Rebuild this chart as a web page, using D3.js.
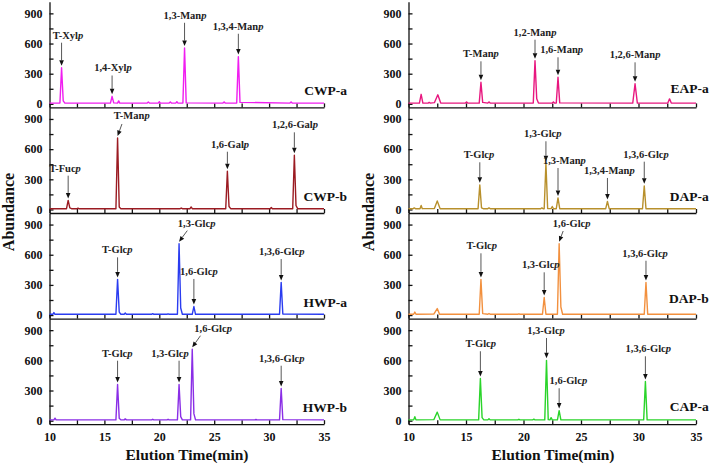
<!DOCTYPE html>
<html><head><meta charset="utf-8">
<script src="https://cdn.jsdelivr.net/npm/d3@7"></script>
<style>body{margin:0;background:#fff}svg{display:block}text{font-family:"Liberation Serif","Times New Roman",serif;font-weight:bold}</style>
</head><body>
<svg id="c" width="710" height="469"></svg>
<script>
// ---------- data ----------
const xDomain = [10, 35];
const yDomain = [-35, 1015];
const xTicks = [10, 12.5, 15, 17.5, 20, 22.5, 25, 27.5, 30, 32.5, 35];
const xTickLabels = [10, 15, 20, 25, 30, 35];
const yTicks = [0, 150, 300, 450, 600, 750, 900];
const yTickLabels = [0, 300, 600, 900];
const sampleNames = ["CWP-a", "CWP-b", "HWP-a", "HWP-b", "EAP-a", "DAP-a", "DAP-b", "CAP-a"];
const sampleColors = ["#f01ef0", "#9b1b22", "#2a3cf0", "#8a2ee6", "#e8177f", "#b8902c", "#f2903e", "#2ad42a"];
// name label anchor [time, abundance]
const nameAnchor = [[37.1, 90], [37.1, 87], [37.1, 77], [37.1, 90], [36.1, 110], [36.1, 87], [36.1, 117], [36.1, 100]];

// chromatogram traces: [elution time (min), abundance]
const CWP_a = [[10,8],[10.95,8],[11.1,360],[11.25,30],[11.4,8],[15.55,8],[15.7,75],[15.85,10],[16.2,8],[16.3,30],[16.4,8],[18.9,8],[19.0,18],[19.1,8],[19.9,8],[20.0,22],[20.1,8],[20.9,8],[21.0,20],[21.1,8],[21.5,8],[21.6,22],[21.7,8],[22.15,8],[22.3,555],[22.45,10],[25.8,8],[25.9,20],[26.0,8],[27.05,8],[27.2,470],[27.35,15],[31.9,8],[32.0,20],[32.1,8],[35,8]];
const CWP_b = [[10,8],[11.55,8],[11.7,90],[11.85,15],[12.0,8],[12.5,8],[12.6,12],[12.7,8],[16.05,8],[16.2,710],[16.35,25],[16.5,8],[21.9,8],[22.0,15],[22.1,8],[22.8,8],[22.9,25],[23.0,8],[26.05,8],[26.2,380],[26.35,30],[26.5,8],[30.1,8],[30.2,20],[30.3,8],[32.15,8],[32.3,540],[32.45,40],[32.6,8],[35,8]];
const HWP_a = [[10,8],[10.3,8],[10.4,25],[10.5,8],[16.05,8],[16.2,355],[16.35,30],[16.5,8],[16.8,8],[16.9,20],[17.0,8],[19.3,8],[19.4,14],[19.5,8],[20.7,8],[20.8,12],[20.9,8],[21.65,8],[21.8,710],[21.95,70],[22.1,8],[23.0,8],[23.15,85],[23.3,8],[30.95,8],[31.1,325],[31.25,10],[35,8]];
const HWP_b = [[10,8],[10.4,8],[10.5,25],[10.6,8],[16.05,8],[16.2,360],[16.35,25],[16.5,8],[16.8,8],[16.9,18],[17.0,8],[19.3,8],[19.4,14],[19.5,8],[20.7,8],[20.8,14],[20.9,8],[21.65,8],[21.8,360],[21.95,40],[22.1,8],[22.85,8],[23.0,710],[23.15,70],[23.3,8],[28.7,8],[28.8,12],[28.9,8],[30.95,8],[31.1,320],[31.25,10],[35,8]];
const EAP_a = [[10,8],[10.95,8],[11.1,95],[11.25,8],[11.7,8],[11.8,15],[11.9,8],[12.25,12],[12.55,90],[12.8,8],[14.95,8],[15.05,20],[15.15,8],[16.15,8],[16.3,215],[16.45,15],[16.9,8],[17.0,20],[17.1,8],[20.85,8],[21.0,430],[21.15,50],[21.3,8],[22.5,8],[22.6,20],[22.7,8],[22.85,8],[23.0,265],[23.15,10],[29.5,8],[29.7,200],[29.9,8],[32.55,8],[32.7,50],[32.85,8],[35,8]];
const DAP_a = [[10,8],[10.4,8],[10.5,15],[10.6,8],[11.0,8],[11.1,40],[11.2,8],[12.25,10],[12.5,85],[12.75,8],[16.05,8],[16.2,245],[16.35,15],[16.5,8],[16.9,8],[17.0,15],[17.1,8],[21.5,8],[21.6,15],[21.7,8],[21.8,8],[21.95,460],[22.1,10],[22.4,8],[22.5,30],[22.6,8],[22.85,8],[23.0,115],[23.15,8],[27.15,8],[27.3,80],[27.45,8],[30.35,8],[30.5,235],[30.65,8],[35,8]];
const DAP_b = [[10,8],[10.45,8],[10.55,30],[10.65,8],[12.2,10],[12.5,65],[12.7,8],[16.15,8],[16.3,355],[16.45,15],[16.9,8],[17.0,15],[17.1,8],[19.5,8],[19.6,12],[19.7,8],[21.65,8],[21.8,175],[21.95,8],[22.95,8],[23.1,710],[23.25,80],[23.4,8],[30.5,8],[30.65,325],[30.8,8],[35,8]];
const CAP_a = [[10,8],[10.45,8],[10.55,40],[10.65,8],[12.2,10],[12.5,85],[12.75,8],[16.1,8],[16.25,420],[16.4,30],[16.55,8],[16.9,8],[17.0,20],[17.1,8],[19.5,8],[19.6,14],[19.7,8],[20.8,8],[20.9,15],[21.0,8],[21.85,8],[22.0,600],[22.15,10],[22.3,8],[22.4,30],[22.5,8],[22.95,8],[23.1,100],[23.25,8],[30.45,8],[30.6,390],[30.75,8],[35,8]];
const traces = [CWP_a, CWP_b, HWP_a, HWP_b, EAP_a, DAP_a, DAP_b, CAP_a];

// peak annotations: [label, peak time, peak abundance, label time, label abundance, (arrow start time, arrow start abundance)]
const CWP_a_peaks = [["T-Xylp",11.1,360,11.68,648],["1,4-Xylp",15.7,75,15.78,322],["1,3-Manp",22.3,555,22.34,846],["1,3,4-Manp",27.2,470,27.17,737]];
const CWP_b_peaks = [["T-Fucp",11.7,90,11.41,376],["T-Manp",16.2,710,17.49,897,16.6,850],["1,6-Galp",26.2,380,26.44,614],["1,2,6-Galp",32.3,540,32.36,807]];
const HWP_a_peaks = [["T-Glcp",16.2,355,16.17,614],["1,3-Glcp",21.8,710,23.4,873,22.55,840],["1,6-Glcp",23.15,85,23.6,399],["1,3,6-Glcp",31.1,325,31.15,597]];
const HWP_b_peaks = [["T-Glcp",16.2,360,16.17,636],["1,3-Glcp",21.8,360,20.97,636],["1,6-Glcp",23.0,710,24.9,885,23.75,845],["1,3,6-Glcp",31.1,320,31.15,586]];
const EAP_a_peaks = [["T-Manp",16.3,215,16.3,463],["1,2-Manp",21.0,430,21.0,678],["1,6-Manp",23.0,265,23.32,503],["1,2,6-Manp",29.7,200,29.7,453]];
const DAP_a_peaks = [["T-Glcp",16.2,245,16.13,509],["1,3-Glcp",21.95,460,21.67,718],["1,3-Manp",23.0,115,23.55,452],["1,3,4-Manp",27.3,80,27.46,353],["1,3,6-Glcp",30.5,235,30.65,515]];
const DAP_b_peaks = [["T-Glcp",16.3,355,16.37,654],["1,3-Glcp",21.8,175,21.5,465],["1,6-Glcp",23.1,710,24.19,873,23.45,836],["1,3,6-Glcp",30.65,325,30.57,580]];
const CAP_a_peaks = [["T-Glcp",16.25,420,16.28,730],["1,3-Glcp",22.0,600,21.96,862],["1,6-Glcp",23.1,100,23.9,362],["1,3,6-Glcp",30.6,390,30.85,680]];
const peakSets = [CWP_a_peaks, CWP_b_peaks, HWP_a_peaks, HWP_b_peaks, EAP_a_peaks, DAP_a_peaks, DAP_b_peaks, CAP_a_peaks];

// ---------- layout ----------
const svg = d3.select("#c");
const colX = [[49.5, 324], [408.5, 696]];
const rowTop = 1.8, rowH = 105.6;

for (let i = 0; i < 8; i++) {
  const col = Math.floor(i / 4), row = i % 4;
  const x = d3.scaleLinear().domain(xDomain).range(colX[col]);
  const top = rowTop + row * rowH, bot = top + rowH;
  const y = d3.scaleLinear().domain(yDomain).range([bot, top]);
  const g = svg.append("g");
  const isBottom = row === 3;

  // axes
  const xa = g.append("g").attr("transform", `translate(0,${bot})`)
    .call(d3.axisBottom(x).tickValues(xTicks).tickSize(-4).tickSizeOuter(0).tickPadding(8)
      .tickFormat(d => isBottom && xTickLabels.includes(d) ? d : ""));
  const ya = g.append("g").attr("transform", `translate(${colX[col][0]},0)`)
    .call(d3.axisLeft(y).tickValues(yTicks).tickSize(-4).tickSizeOuter(0).tickPadding(7)
      .tickFormat(d => yTickLabels.includes(d) ? d : ""));
  [xa, ya].forEach(a => {
    a.selectAll("path,line").attr("stroke", "#111").attr("stroke-width", 1.3);
    a.selectAll("text").attr("font-size", 12).attr("fill", "#111")
      .style("font-family", '"Liberation Serif",serif').style("font-weight", "bold");
  });

  // trace
  const line = d3.line().x(d => x(d[0])).y(d => y(d[1]));
  g.append("path").datum(traces[i]).attr("d", line)
    .attr("fill", "none").attr("stroke", sampleColors[i]).attr("stroke-width", 1.4)
    .attr("stroke-linejoin", "round");

  // sample name
  g.append("text").attr("x", x(nameAnchor[i][0])).attr("y", y(nameAnchor[i][1]))
    .attr("text-anchor", "end").attr("font-size", 13.5).attr("fill", "#111").text(sampleNames[i]);

  // annotations
  peakSets[i].forEach(p => {
    const [lab, pt, pv, lt, lv, at, av] = p;
    const t = g.append("text").attr("x", x(lt)).attr("y", y(lv)).attr("text-anchor", "middle")
      .attr("font-size", 10.5).attr("fill", "#222");
    t.append("tspan").text(lab.slice(0, -1));
    t.append("tspan").attr("font-style", "italic").text("p");
    const x0 = at !== undefined ? x(at) : x(pt);
    const y0 = av !== undefined ? y(av) : y(lv) + 4;
    const x1 = x(pt), y1 = y(pv) - 2;
    const ang = Math.atan2(y1 - y0, x1 - x0);
    const L = 5.5, W = 2.3;
    const bx = x1 - L * Math.cos(ang), by = y1 - L * Math.sin(ang);
    g.append("line").attr("x1", x0).attr("y1", y0).attr("x2", bx).attr("y2", by)
      .attr("stroke", "#444").attr("stroke-width", 0.9);
    const px = -Math.sin(ang) * W, py = Math.cos(ang) * W;
    g.append("path").attr("d", `M${x1},${y1}L${bx + px},${by + py}L${bx - px},${by - py}Z`).attr("fill", "#111");
  });
}

// axis titles
svg.append("text").attr("transform", "translate(14,212) rotate(-90)").attr("text-anchor", "middle")
  .attr("font-size", 16).attr("fill", "#111").text("Abundance");
svg.append("text").attr("transform", "translate(374,212) rotate(-90)").attr("text-anchor", "middle")
  .attr("font-size", 16).attr("fill", "#111").text("Abundance");
svg.append("text").attr("x", 187).attr("y", 460).attr("text-anchor", "middle")
  .attr("font-size", 15.5).attr("fill", "#111").text("Elution Time(min)");
svg.append("text").attr("x", 553).attr("y", 460).attr("text-anchor", "middle")
  .attr("font-size", 15.5).attr("fill", "#111").text("Elution Time(min)");
</script>
</body></html>
